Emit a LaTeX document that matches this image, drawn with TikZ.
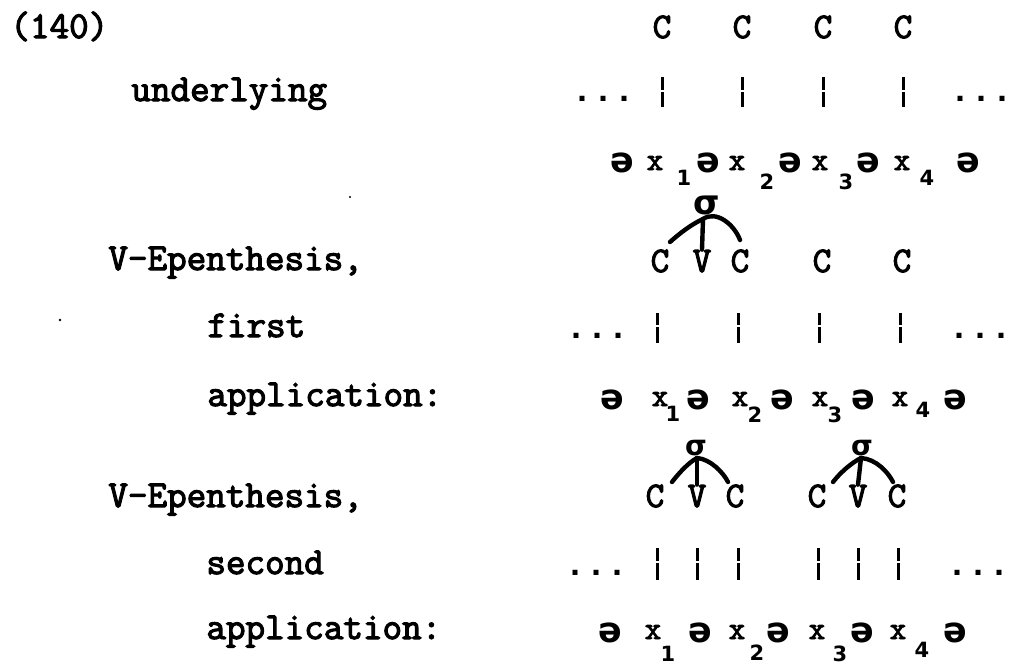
\documentclass[tikz,border=0pt]{standalone}
\usepackage{fontspec}
\newfontfamily\tw{Latin Modern Mono}[FakeBold=3]
\newfontfamily\dt{Liberation Mono}
\newfontfamily\hw{DejaVu Sans}
\begin{document}
\begin{tikzpicture}[x=0.5pt,y=-0.5pt,
  lab/.style={anchor=base west, inner sep=0pt, font=\tw\fontsize{19}{19}\selectfont},
  cv/.style={anchor=base, inner sep=0pt, font=\tw\fontsize{18}{18}\selectfont},
  xx/.style={anchor=base, inner sep=0pt, font=\tw\fontsize{16}{16}\selectfont},
  dts/.style={anchor=base, inner sep=0pt, font=\dt\bfseries\fontsize{17.5}{17.5}\selectfont},
  sw/.style={inner sep=0pt, font=\hw\bfseries\fontsize{17.5}{17.5}\selectfont},
  sub/.style={inner sep=0pt, font=\hw\bfseries\fontsize{10.5}{10.5}\selectfont},
  sigA/.style={inner sep=0pt, font=\hw\bfseries\fontsize{17}{17}\selectfont},
  sigB/.style={inner sep=0pt, font=\hw\bfseries\fontsize{14}{14}\selectfont},
  bar/.style={line width=1.5pt},
  arcline/.style={line width=2.2pt, line cap=round},
  speck/.style={fill=black, draw=none}]
\useasboundingbox (0,0) rectangle (1011,665);

% ---------- labels ----------
\node[lab] (n140) at (10,38) {(140)};
\node[lab] (lund) at (131,101) {underlying};
\node[lab] (lve1) at (108,270) {V-Epenthesis,};
\node[lab] (lfir) at (207,337) {first};
\node[lab] (lap1) at (207,406) {application:};
\node[lab] (lve2) at (108,507) {V-Epenthesis,};
\node[lab] (lsec) at (206,574) {second};
\node[lab] (lap2) at (206,639) {application:};
\fill[speck] (350,197) circle (1.2);
\fill[speck] (60,320) circle (1.4);

% ---------- block 1: underlying ----------
\foreach \i/\x in {1/662,2/742,3/823,4/903}{
  \node[cv] (ua\i) at (\x,38) {C};
  \draw[bar] (\x,77) -- (\x,90) (\x,92) -- (\x,107);
}
\node[dts] (ud1) at (603,101) {...};
\node[dts] (ud2) at (981,101) {...};
\node[sw] (us0) at (622,163) {ə};
\node[xx] (ux1) at (655,170) {x};
\node[sub] (uk1) at (684,178) {1};
\node[sw] (us1) at (708,163) {ə};
\node[xx] (ux2) at (737,170) {x};
\node[sub] (uk2) at (767,182) {2};
\node[sw] (us2) at (790,163) {ə};
\node[xx] (ux3) at (820,170) {x};
\node[sub] (uk3) at (846,182) {3};
\node[sw] (us3) at (868,163) {ə};
\node[xx] (ux4) at (902,170) {x};
\node[sub] (uk4) at (927,178) {4};
\node[sw] (us4) at (968,163) {ə};

% ---------- block 2: first application ----------
\node[sigA] (sa) at (707,205) {σ};
\coordinate (ja) at (703,219);
\node[cv] (fa1) at (660,272) {C};
\node[cv] (fv1) at (702,272) {V};
\node[cv] (fa2) at (740,272) {C};
\node[cv] (fa3) at (822,272) {C};
\node[cv] (fa4) at (902,272) {C};
\draw[arcline] (ja) .. controls (692,224) and (680,233) .. (670,242);
\draw[arcline] (ja) .. controls (716,210) and (734,224) .. (740,240);
\draw[arcline] (ja) -- (fv1.north);
\foreach \x in {657,738,819,900}{
  \draw[bar] (\x,313) -- (\x,325) (\x,327) -- (\x,343);
}
\node[dts] (fd1) at (597,338) {...};
\node[dts] (fd2) at (980,338) {...};
\node[sw] (fs0) at (612,400) {ə};
\node[xx] (fx1) at (660,406) {x};
\node[sub] (fk1) at (673,414) {1};
\node[sw] (fs1) at (698,400) {ə};
\node[xx] (fx2) at (740,406) {x};
\node[sub] (fk2) at (755,415) {2};
\node[sw] (fs2) at (782,400) {ə};
\node[xx] (fx3) at (820,406) {x};
\node[sub] (fk3) at (835,415) {3};
\node[sw] (fs3) at (863,400) {ə};
\node[xx] (fx4) at (900,406) {x};
\node[sub] (fk4) at (923,410) {4};
\node[sw] (fs4) at (955,400) {ə};

% ---------- block 3: second application ----------
\node[sigB] (sb) at (696,448) {σ};
\node[sigB] (sc) at (862,448) {σ};
\coordinate (jb) at (697,458);
\coordinate (jc) at (861,458);
\node[cv] (sa1) at (655,507) {C};
\node[cv] (sv1) at (697,507) {V};
\node[cv] (sa2) at (735,507) {C};
\node[cv] (sa3) at (817,507) {C};
\node[cv] (sv2) at (858,507) {V};
\node[cv] (sa4) at (897,507) {C};
\draw[arcline] (jb) .. controls (688,463) and (679,473) .. (672,482);
\draw[arcline] (jb) .. controls (710,459) and (723,472) .. (728,482);
\draw[arcline] (jb) -- (sv1.north);
\draw[arcline] (jc) .. controls (851,463) and (840,473) .. (833,482);
\draw[arcline] (jc) .. controls (876,459) and (888,472) .. (893,482);
\draw[arcline] (jc) -- (sv2.north);
\foreach \x in {657,697,738,818,858,898}{
  \draw[bar] (\x,548) -- (\x,561) (\x,563) -- (\x,580);
}
\node[dts] (sd1) at (596,575) {...};
\node[dts] (sd2) at (978,575) {...};
\node[sw] (ss0) at (610,633) {ə};
\node[xx] (sx1) at (653,639) {x};
\node[sub] (sk1) at (668,654) {1};
\node[sw] (ss1) at (700,633) {ə};
\node[xx] (sx2) at (737,639) {x};
\node[sub] (sk2) at (757,653) {2};
\node[sw] (ss2) at (778,633) {ə};
\node[xx] (sx3) at (817,639) {x};
\node[sub] (sk3) at (840,654) {3};
\node[sw] (ss3) at (862,633) {ə};
\node[xx] (sx4) at (898,639) {x};
\node[sub] (sk4) at (922,650) {4};
\node[sw] (ss4) at (955,633) {ə};
\end{tikzpicture}
\end{document}
